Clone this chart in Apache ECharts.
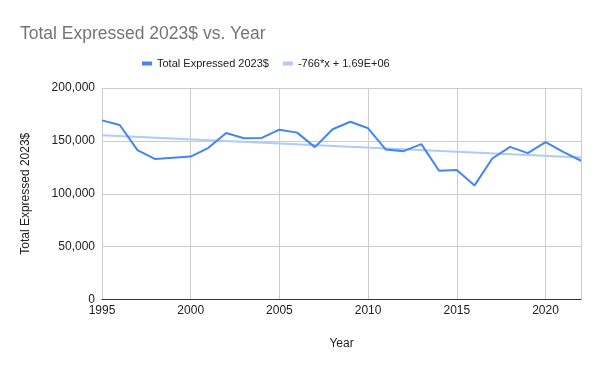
<!DOCTYPE html>
<html>
<head>
<meta charset="utf-8">
<script src="https://cdn.jsdelivr.net/npm/echarts@6/dist/echarts.min.js"></script>
<style>
html,body{margin:0;padding:0;background:#fff;}
#chart{width:600px;height:371px;}
</style>
</head>
<body>
<div id="chart"></div>
<script>
var years = [1995,1996,1997,1998,1999,2000,2001,2002,2003,2004,2005,2006,2007,2008,2009,2010,2011,2012,2013,2014,2015,2016,2017,2018,2019,2020,2021,2022];
var totals = [169400,165000,141200,132800,134000,135200,143400,157500,152500,152800,160600,157800,144100,161000,168100,161900,141800,140300,146900,121800,122400,107900,133300,144300,138400,148800,139600,131200];
var trendYears = [1995, 2022];
var trendValues = [155300, 134300];
var yTicks = [0, 50000, 100000, 150000, 200000];
var seriesNames = ['Total Expressed 2023$', '-766*x + 1.69E+06'];

var chart = echarts.init(document.getElementById('chart'), null, {renderer:'canvas'});
var fontFam = '"Liberation Sans", Arial, sans-serif';
chart.setOption({
  animation:false,
  backgroundColor:'#ffffff',
  title:{
    text:'Total Expressed 2023$ vs. Year',
    left:15, top:20,
    textStyle:{fontFamily:fontFam, fontSize:17.5, fontWeight:'normal', color:'#757575'}
  },
  legend:{
    top:53, left:137,
    itemWidth:10, itemHeight:4, itemGap:14,
    icon:'rect',
    textStyle:{fontFamily:fontFam, fontSize:11, color:'#222222'},
    data:[
      {name:seriesNames[0], itemStyle:{color:'#4285f4'}},
      {name:seriesNames[1], itemStyle:{color:'#aecbfa'}}
    ]
  },
  grid:{left:102, right:19, top:88, bottom:71.5, containLabel:false},
  xAxis:{
    type:'value', min:1995, max:2022, interval:5,
    name:'Year', nameLocation:'middle', nameGap:38,
    nameTextStyle:{fontFamily:fontFam, fontSize:12, color:'#222222'},
    axisLine:{show:true, onZero:false, lineStyle:{color:'#333333', width:1}},
    axisTick:{show:false},
    axisLabel:{fontFamily:fontFam, fontSize:12, color:'#222222', margin:5,
      showMaxLabel:false,
      formatter:function(v){return String(v);}},
    splitLine:{show:true, lineStyle:{color:'#cccccc', width:1}}
  },
  yAxis:{
    type:'value', min:yTicks[0], max:yTicks[yTicks.length-1], interval:50000,
    name:'Total Expressed 2023$', nameLocation:'middle', nameGap:70,
    nameTextStyle:{fontFamily:fontFam, fontSize:12, color:'#222222'},
    axisLine:{show:false},
    axisTick:{show:false},
    axisLabel:{fontFamily:fontFam, fontSize:12, color:'#222222', margin:7},
    splitLine:{show:true, lineStyle:{color:'#cccccc', width:1}}
  },
  series:[
    {
      name:seriesNames[1], type:'line', showSymbol:false, symbol:'none',
      data:trendYears.map(function(y,i){return [y, trendValues[i]];}),
      lineStyle:{color:'#aecbfa', width:2},
      itemStyle:{color:'#aecbfa'}, z:1
    },
    {
      name:seriesNames[0], type:'line', showSymbol:false, symbol:'none',
      data:years.map(function(y,i){return [y, totals[i]];}),
      lineStyle:{color:'#4285f4', width:2},
      itemStyle:{color:'#4285f4'}, z:2
    }
  ]
});
</script>
</body>
</html>
